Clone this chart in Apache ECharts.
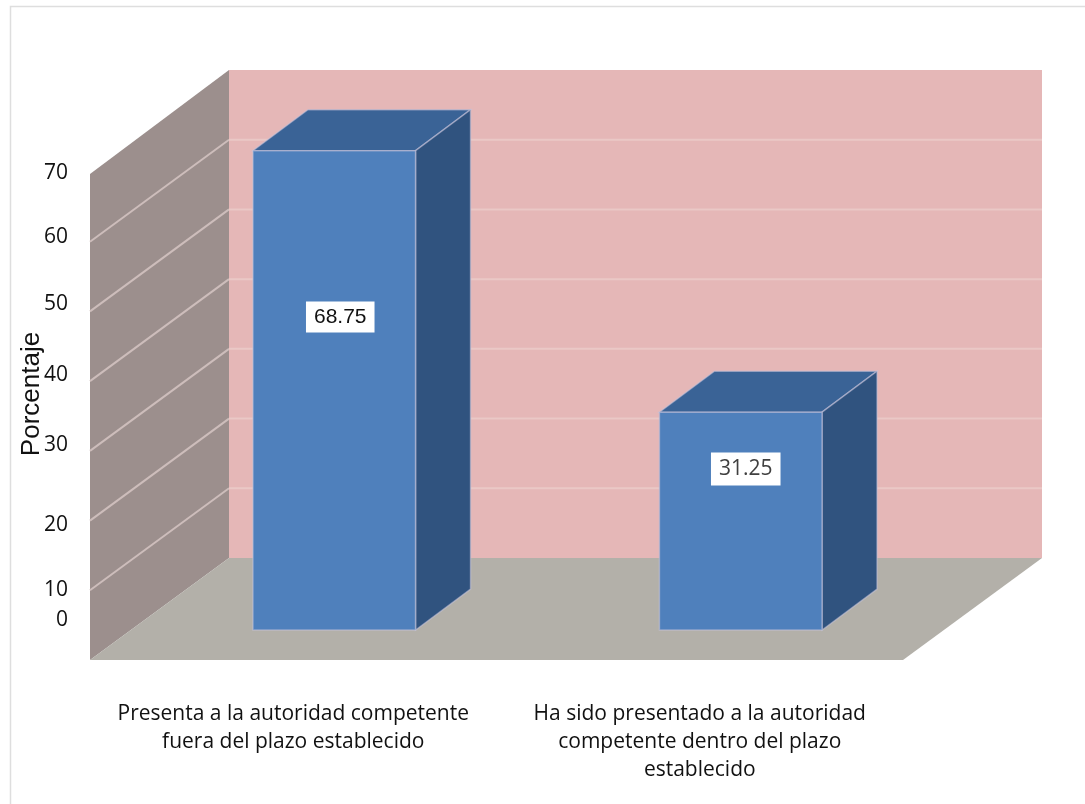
<!DOCTYPE html>
<html>
<head>
<meta charset="utf-8">
<style>html,body{margin:0;padding:0;background:#fff}#chart{width:1085px;height:804px}</style>
<script src="https://cdn.jsdelivr.net/npm/echarts@6/dist/echarts.min.js"></script>
</head>
<body>
<div id="chart"></div>
<script>
// Data
var categories = [
  'Presenta a la autoridad competente\nfuera del plazo establecido',
  'Ha sido presentado a la autoridad\ncompetente dentro del plazo\nestablecido'
];
var percentages = [68.75, 31.25];
var tickValues = [0, 10, 20, 30, 40, 50, 60, 70];
var axisTitle = 'Porcentaje';

// Where each value box sits on its bar, in axis units
var valueBoxHeights = [44.9, 23.1];
// Vertical nudge of each tick label in pixels, upward positive, same order as tickValues
var tickNudges = [40, 0, -4, 6, 6, 7, 5, -1];

// Oblique projection: pixel offsets from the front plane of the box
var DEPTH_BACK = [139, -102];
var DEPTH_BAR = [41, -30];
var BAR_DEPTH = [55, -41];
var BAR_WIDTH_RATIO = 0.4;

var COLORS = {
  back: '#E5B7B7', side: '#9C8F8D', floor: '#B3B0A9',
  gridBack: '#EAC8C6', gridSide: '#CDBDBB',
  front: '#4F80BC', top: '#3A6396', right: '#30537F', halo: 'rgba(196,194,218,0.55)'
};

function poly(points, fill, extra) {
  return {
    type: 'polygon',
    shape: { points: points },
    style: Object.assign({ fill: fill }, extra || {})
  };
}
function shift(p, d) { return [p[0] + d[0], p[1] + d[1]]; }

// Back wall, side wall and floor of the box
function renderWalls(params, api) {
  var c = params.coordSys;
  var y0 = api.coord([0, 0])[1];
  var yTop = api.coord([0, 70])[1];
  var l = c.x, r = c.x + c.width;
  return {
    type: 'group',
    children: [
      poly([shift([l, yTop], DEPTH_BACK), shift([r, yTop], DEPTH_BACK), shift([r, y0], DEPTH_BACK), shift([l, y0], DEPTH_BACK)], COLORS.back),
      poly([[l, yTop + 2], shift([l, yTop], DEPTH_BACK), shift([l, y0], DEPTH_BACK), [l, y0]], COLORS.side),
      poly([[l, y0], shift([l, y0], DEPTH_BACK), shift([r, y0], DEPTH_BACK), [r, y0]], COLORS.floor)
    ]
  };
}

// One gridline per tick, running along the side wall and across the back wall
function renderGridline(params, api) {
  var c = params.coordSys;
  var v = api.value(0);
  var y = api.coord([0, v])[1];
  var a = [c.x, y];
  var b = shift(a, DEPTH_BACK);
  var e = shift([c.x + c.width, y], DEPTH_BACK);
  return {
    type: 'group',
    children: [
      { type: 'line', shape: { x1: a[0], y1: a[1], x2: b[0], y2: b[1] }, style: { stroke: COLORS.gridSide, lineWidth: 2 } },
      { type: 'line', shape: { x1: b[0], y1: b[1], x2: e[0], y2: e[1] }, style: { stroke: COLORS.gridBack, lineWidth: 2 } }
    ]
  };
}

// Prism for each bar, plus its white value box
function renderBar(params, api) {
  var i = api.value(0);
  var v = api.value(1);
  var w = api.size([1, 0])[0] * BAR_WIDTH_RATIO;
  var top = shift(api.coord([i, v]), DEPTH_BAR);
  var base = shift(api.coord([i, 0]), DEPTH_BAR);
  var l = top[0] - w / 2, r = top[0] + w / 2;
  var halo = { stroke: COLORS.halo, lineWidth: 1.5 };
  var box = shift(api.coord([i, api.value(2)]), DEPTH_BAR);
  var isFirst = params.dataIndex === 0;
  return {
    type: 'group',
    children: [
      poly([[l, top[1]], shift([l, top[1]], BAR_DEPTH), shift([r, top[1]], BAR_DEPTH), [r, top[1]]], COLORS.top, halo),
      poly([[r, top[1]], shift([r, top[1]], BAR_DEPTH), shift([r, base[1]], BAR_DEPTH), [r, base[1]]], COLORS.right, halo),
      poly([[l, top[1]], [r, top[1]], [r, base[1]], [l, base[1]]], COLORS.front, halo),
      {
        type: 'text',
        x: box[0] + (isFirst ? 6 : 5),
        y: box[1],
        style: {
          text: v.toFixed(2),
          align: 'center',
          verticalAlign: 'middle',
          fontFamily: isFirst ? '"Liberation Sans"' : '"Open Sans"',
          fontSize: 21,
          fill: isFirst ? '#111' : '#404040',
          backgroundColor: '#fff',
          padding: isFirst ? [5, 8, 5, 8] : [6, 8, 6, 8]
        }
      }
    ]
  };
}

var chart = echarts.init(document.getElementById('chart'), null, { renderer: 'canvas' });

var tickRich = {};
tickValues.forEach(function (t, i) {
  var n = tickNudges[i];
  tickRich['t' + t] = {
    fontFamily: '"Open Sans"', fontSize: 21, color: '#111',
    padding: n >= 0 ? [0, 0, n * 2, 0] : [-n * 2, 0, 0, 0]
  };
});

chart.setOption({
  animation: false,
  backgroundColor: '#fff',
  graphic: [{
    type: 'rect', z: -1, silent: true,
    shape: { x: 10.5, y: 6.5, width: 1200, height: 1000 },
    style: { fill: 'none', stroke: '#DEDEDE', lineWidth: 1.5 }
  }],
  grid: { left: 90, right: 182, top: 172, bottom: 144, containLabel: false },
  xAxis: {
    type: 'category',
    data: categories,
    axisLine: { show: false },
    axisTick: { show: false },
    axisLabel: {
      interval: 0, margin: 40, fontFamily: '"Open Sans"', fontSize: 21,
      lineHeight: 28, color: '#111'
    }
  },
  yAxis: {
    type: 'value', min: 0, max: 70, interval: 10,
    name: axisTitle,
    nameLocation: 'middle',
    nameRotate: 90,
    nameGap: 45,
    nameMoveOverlap: false,
    nameTextStyle: { fontFamily: '"Liberation Sans"', fontSize: 26, color: '#111', padding: [0, 0, 0, 44] },
    splitLine: { show: false },
    axisLine: { show: false },
    axisTick: { show: false },
    axisLabel: {
      margin: 22,
      formatter: function (v) { return '{t' + v + '|' + v + '}'; },
      rich: tickRich
    }
  },
  series: [
    { type: 'custom', name: 'walls', silent: true, z: 1, data: [[0]], renderItem: renderWalls, encode: { x: -1, y: -1 } },
    { type: 'custom', name: 'gridlines', silent: true, z: 2, data: tickValues.slice(1, 7).map(function (t) { return [t]; }), renderItem: renderGridline, encode: { x: -1, y: -1 } },
    {
      type: 'custom', name: axisTitle, z: 3,
      data: percentages.map(function (p, i) { return [i, p, valueBoxHeights[i]]; }),
      renderItem: renderBar,
      encode: { x: 0, y: 1 }
    }
  ]
});
</script>
</body>
</html>
